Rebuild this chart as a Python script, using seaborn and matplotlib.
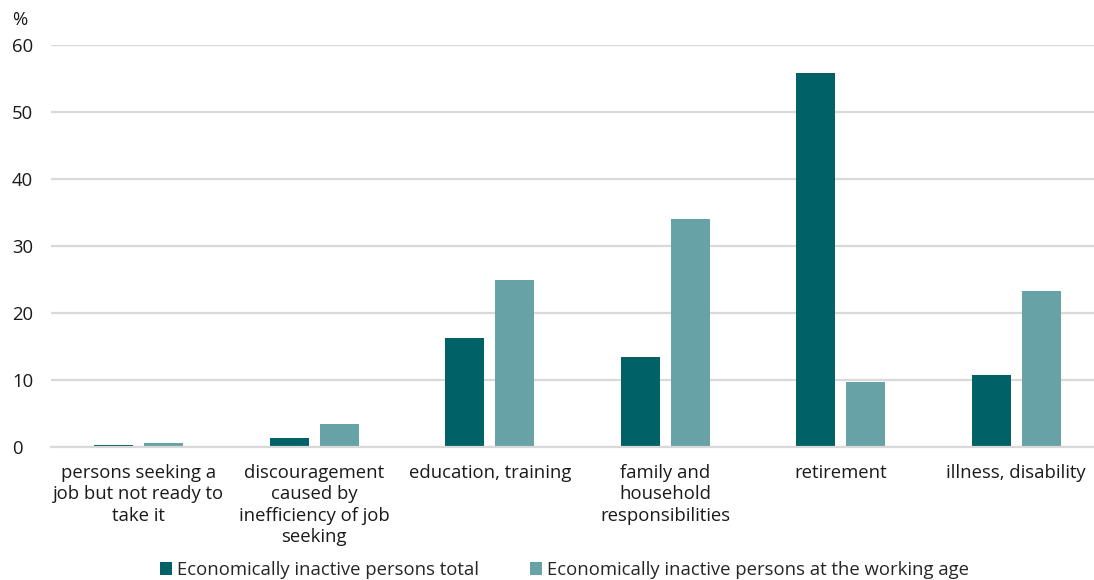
import matplotlib
matplotlib.use("Agg")
import matplotlib.pyplot as plt
import seaborn as sns
import pandas as pd

categories = [
    "persons seeking a\njob but not ready to\ntake it",
    "discouragement\ncaused by\ninefficiency of job\nseeking",
    "education, training",
    "family and\nhousehold\nresponsibilities",
    "retirement",
    "illness, disability",
]
series_names = ["Economically inactive persons total",
                "Economically inactive persons at the working age"]
total = [0.3, 1.3, 16.2, 13.4, 55.8, 10.7]
working_age = [0.6, 3.4, 24.9, 34.0, 9.7, 23.3]
colors = ["#006166", "#66A2A6"]
yticks = [0, 10, 20, 30, 40, 50, 60]

df = pd.DataFrame({
    "category": categories * 2,
    "series": [series_names[0]] * 6 + [series_names[1]] * 6,
    "value": total + working_age,
})

sns.set_theme(style="white")
plt.rcParams["font.family"] = ["Open Sans", "DejaVu Sans"]

fs = 13.3
fig = plt.figure(figsize=(10.94, 5.8), dpi=100)
left_px, right_px = 51, 1094
ax = fig.add_axes([left_px / 1094, 1 - 447 / 580, (right_px - left_px) / 1094, (447 - 45) / 580])

sns.barplot(data=df, x="category", y="value", hue="series", order=categories,
            hue_order=series_names, palette=colors, width=0.57, gap=0.22,
            saturation=1, linewidth=0, ax=ax, legend=True)

ax.set_ylim(0, 60)
ax.set_yticks(yticks)
ax.yaxis.grid(True, color="#d9d9d9", linewidth=1.6)
ax.set_axisbelow(True)
for s in ["top", "right", "left"]:
    ax.spines[s].set_visible(False)
ax.spines["bottom"].set_color("#d9d9d9")
ax.spines["bottom"].set_linewidth(1.6)
ax.set_xlabel("")
ax.set_ylabel("")
ax.tick_params(axis="both", length=0, labelsize=fs, colors="#1a1a1a")
ax.tick_params(axis="x", pad=12)
ax.tick_params(axis="y", pad=28)
for lbl in ax.get_yticklabels():
    lbl.set_horizontalalignment("left")
for lbl in ax.get_xticklabels():
    lbl.set_linespacing(1.25)
ax.set_xlim(-0.5, -0.5 + (right_px - left_px) / 175.5)

fig.text(12 / 1094, 1 - 20 / 580, "%", fontsize=fs, color="#1a1a1a", va="center")

handles, labels = ax.get_legend_handles_labels()
ax.legend_.remove()
fig.legend(handles, labels, loc="center", bbox_to_anchor=(0.516, 1 - 570 / 580),
           ncol=2, frameon=False, fontsize=fs, handlelength=0.65, handleheight=0.65,
           handletextpad=0.25, columnspacing=2.8, borderaxespad=0, borderpad=0)

fig.savefig("out.png", dpi=100)
